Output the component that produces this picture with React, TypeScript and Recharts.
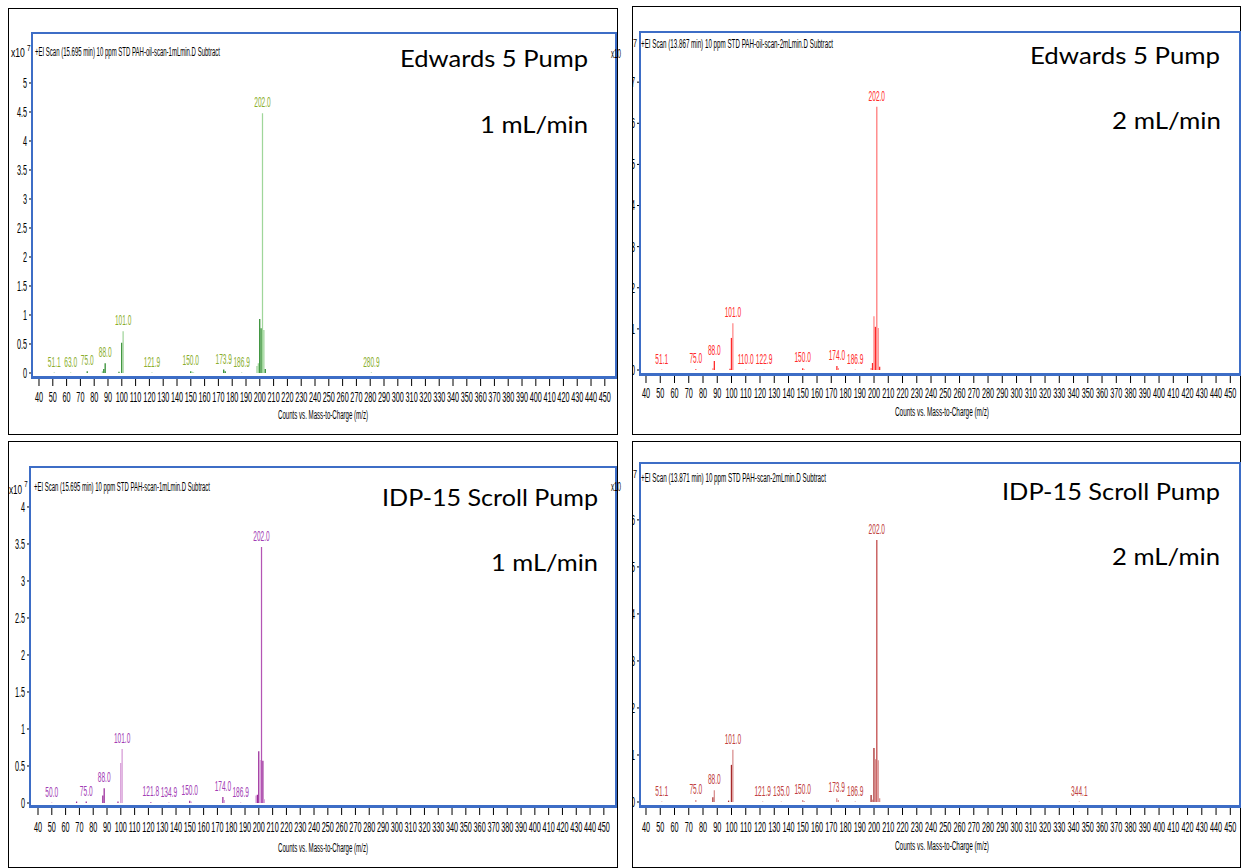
import { BarChart, Bar, XAxis, YAxis, Cell, LabelList } from "recharts";

// m/z tick labels shared by the four spectra
const X_TICKS = [
  40, 50, 60, 70, 80, 90, 100, 110, 120, 130, 140, 150, 160, 170, 180, 190, 200, 210, 220, 230, 240,
  250, 260, 270, 280, 290, 300, 310, 320, 330, 340, 350, 360, 370, 380, 390, 400, 410, 420, 430, 440, 450,
];
const Y_TICKS_5 = [0, 0.5, 1, 1.5, 2, 2.5, 3, 3.5, 4, 4.5, 5];
const Y_TICKS_4 = [0, 0.5, 1, 1.5, 2, 2.5, 3, 3.5, 4];
const Y_TICKS_7 = [0, 1, 2, 3, 4, 5, 6, 7];
const Y_TICKS_6 = [0, 1, 2, 3, 4, 5, 6];

// tone: 0 light, 1 dark, 2 base peak colour. counts in x10^7
const edw1Mz = [51.1, 63.0, 75, 86, 87, 88, 98, 100, 101, 121.9, 150, 151, 152, 173.9, 175, 186.9, 198, 199, 200, 201, 202, 203, 204, 280.9];
const edw1Counts = [0.005, 0.005, 0.03, 0.03, 0.07, 0.17, 0.02, 0.52, 0.72, 0.005, 0.03, 0.02, 0.01, 0.06, 0.03, 0.005, 0.12, 0.17, 0.93, 0.77, 4.48, 0.74, 0.07, 0.005];
const edw1Tone = [1, 1, 1, 0, 1, 1, 1, 1, 0, 1, 1, 0, 0, 1, 1, 1, 0, 0, 1, 1, 2, 0, 1, 1];
const edw1Label = ["51.1", "63.0", "75.0", "", "", "88.0", "", "", "101.0", "121.9", "150.0", "", "", "173.9", "", "186.9", "", "", "", "", "202.0", "", "", "280.9"];

const edw2Mz = [51.1, 75, 87, 88, 99, 100, 101, 110, 122.9, 150, 151, 174, 175, 186.9, 198, 199, 200, 201, 202, 203, 204];
const edw2Counts = [0.005, 0.02, 0.04, 0.22, 0.03, 0.78, 1.14, 0.005, 0.005, 0.04, 0.02, 0.1, 0.05, 0.005, 0.05, 0.17, 1.31, 1.05, 6.4, 1.02, 0.08];
const edw2Tone = [1, 1, 0, 1, 1, 1, 0, 1, 1, 1, 0, 1, 0, 1, 0, 1, 0, 1, 2, 0, 1];
const edw2Label = ["51.1", "75.0", "", "88.0", "", "", "101.0", "110.0", "122.9", "150.0", "", "174.0", "", "186.9", "", "", "", "", "202.0", "", ""];

const idp1Mz = [50.0, 68, 75, 87, 88, 98, 100, 101, 121.8, 134.9, 150, 151, 174, 175, 186.9, 198, 199, 200, 201, 202, 203, 204];
const idp1Counts = [0.005, 0.02, 0.02, 0.1, 0.2, 0.02, 0.54, 0.73, 0.01, 0.005, 0.03, 0.02, 0.08, 0.04, 0.005, 0.1, 0.11, 0.7, 0.58, 3.46, 0.57, 0.05];
const idp1Tone = [1, 1, 1, 1, 1, 1, 0, 0, 1, 1, 1, 0, 1, 0, 1, 0, 1, 1, 0, 2, 1, 0];
const idp1Label = ["50.0", "", "75.0", "", "88.0", "", "", "101.0", "121.8", "134.9", "150.0", "", "174.0", "", "186.9", "", "", "", "", "202.0", "", ""];

const idp2Mz = [51.1, 75, 87, 88, 98, 100, 101, 121.9, 135.0, 150, 151, 173.9, 175, 186.9, 198, 199, 200, 201, 202, 203, 204, 344.1];
const idp2Counts = [0.005, 0.04, 0.1, 0.25, 0.03, 0.79, 1.11, 0.005, 0.005, 0.04, 0.02, 0.08, 0.04, 0.005, 0.15, 0.05, 1.15, 0.91, 5.57, 0.89, 0.08, 0.005];
const idp2Tone = [1, 0, 1, 0, 1, 1, 0, 1, 1, 0, 0, 0, 0, 1, 1, 0, 1, 0, 2, 0, 0, 1];
const idp2Label = ["51.1", "75.0", "", "88.0", "", "", "101.0", "121.9", "135.0", "150.0", "", "173.9", "", "186.9", "", "", "", "", "202.0", "", "", "344.1"];

const SMALL_FONT = "'Liberation Sans', Arial, sans-serif";
const TITLE_FONT = "Lato, 'Open Sans', sans-serif";
const BLUE = "#3d6dc6";

type Panel = {
  key: string;
  left: number;
  top: number;
  w: number;
  h: number;
  mt: number;
  mr: number;
  yw: number;
  xh: number;
  tickGap: number;
  xDomain: [number, number];
  yDomain: [number, number];
  yTicks: number[];
  mz: number[];
  counts: number[];
  tone: number[];
  label: string[];
  colors: string[];
  labelColor: string;
};

const panels: Panel[] = [
  {
    key: "edw1", left: 8, top: 8, w: 610, h: 427, mt: 25, mr: 2, yw: 24, xh: 58, tickGap: 6,
    xDomain: [34.93, 458.1], yDomain: [-0.069, 5.862], yTicks: Y_TICKS_5,
    mz: edw1Mz, counts: edw1Counts, tone: edw1Tone, label: edw1Label,
    colors: ["#9fd49a", "#2b8a2b", "#9fd69a"], labelColor: "#8aae2c",
  },
  {
    key: "edw2", left: 632, top: 6, w: 609, h: 429, mt: 26, mr: 1, yw: 8, xh: 61, tickGap: 5,
    xDomain: [35.79, 456.8], yDomain: [-0.097, 8.22], yTicks: Y_TICKS_7,
    mz: edw2Mz, counts: edw2Counts, tone: edw2Tone, label: edw2Label,
    colors: ["#ff8a8a", "#ff2a2a", "#ff7a7a"], labelColor: "#ff2a2a",
  },
  {
    key: "idp1", left: 8, top: 441, w: 610, h: 427, mt: 26, mr: 2, yw: 22, xh: 62, tickGap: 7,
    xDomain: [34.2, 458.8], yDomain: [-0.0405, 4.54], yTicks: Y_TICKS_4,
    mz: idp1Mz, counts: idp1Counts, tone: idp1Tone, label: idp1Label,
    colors: ["#d69ad6", "#9a2a9a", "#b455b4"], labelColor: "#a23cb4",
  },
  {
    key: "idp2", left: 632, top: 441, w: 609, h: 427, mt: 22, mr: 1, yw: 8, xh: 62, tickGap: 7,
    xDomain: [35.79, 456.8], yDomain: [-0.085, 7.21], yTicks: Y_TICKS_6,
    mz: idp2Mz, counts: idp2Counts, tone: idp2Tone, label: idp2Label,
    colors: ["#d98f8f", "#a52a2a", "#c24a4a"], labelColor: "#c04040",
  },
];

const XTick = (props: any) => {
  const { x, y, payload } = props;
  return (
    <text transform={`translate(${x},${y}) scale(0.52,1)`} textAnchor="middle" dy="0.71em" fontSize={14} fontFamily={SMALL_FONT} fill="#000">
      {payload.value}
    </text>
  );
};

const YTick = (props: any) => {
  const { x, y, payload } = props;
  return (
    <text transform={`translate(${x},${y}) scale(0.52,1)`} textAnchor="end" dy="0.35em" fontSize={14} fontFamily={SMALL_FONT} fill="#000">
      {payload.value}
    </text>
  );
};

const makePeakLabel = (color: string) => (props: any) => {
  const { x, y, width, value } = props;
  if (!value) return null;
  const cx = Number(x) + Number(width) / 2;
  return (
    <text transform={`translate(${cx},${Number(y) - 6}) scale(0.47,1)`} textAnchor="middle" fontSize={14} fontFamily={SMALL_FONT} fill={color}>
      {value}
    </text>
  );
};

function Spectrum({ p }: { p: Panel }) {
  const data = p.mz.map((m, i) => ({ mz: m, v: p.counts[i], tone: p.tone[i], label: p.label[i] }));
  const plotL = p.left + p.yw;
  const plotT = p.top + p.mt;
  const plotR = p.left + p.w - p.mr;
  const plotB = p.top + p.h - p.xh;
  return (
    <>
      <div style={{ position: "absolute", left: p.left, top: p.top, width: p.w, height: p.h, border: "1px solid #000", boxSizing: "border-box" }} />
      <div style={{ position: "absolute", left: p.left, top: p.top }}>
        <BarChart width={p.w} height={p.h} data={data} margin={{ top: p.mt, right: p.mr, bottom: 0, left: 0 }}>
          <XAxis
            type="number"
            dataKey="mz"
            domain={p.xDomain}
            ticks={X_TICKS}
            interval={0}
            allowDataOverflow
            height={p.xh}
            axisLine={false}
            tickLine={{ stroke: "#000" }}
            tickSize={9}
            tickMargin={p.tickGap}
            tick={XTick}
          />
          <YAxis
            type="number"
            domain={p.yDomain}
            ticks={p.yTicks}
            interval={0}
            allowDataOverflow
            width={p.yw}
            axisLine={{ stroke: "#000" }}
            tickLine={{ stroke: "#000" }}
            tickSize={3}
            tickMargin={2}
            tick={YTick}
          />
          <Bar dataKey="v" barSize={2} isAnimationActive={false}>
            {data.map((d, i) => (
              <Cell key={i} fill={p.colors[d.tone]} />
            ))}
            <LabelList dataKey="label" content={makePeakLabel(p.labelColor)} />
          </Bar>
        </BarChart>
      </div>
      <div
        style={{
          position: "absolute",
          left: plotL - 1,
          top: plotT - 1,
          width: plotR - plotL + 2,
          height: plotB - plotT + 3,
          borderStyle: "solid",
          borderColor: BLUE,
          borderWidth: "2px 2px 3px 2px",
          boxSizing: "border-box",
        }}
      />
    </>
  );
}

const small = { fontFamily: SMALL_FONT, fill: "#000" } as const;
const title = { fontFamily: TITLE_FONT, fill: "#000", fontSize: 24 } as const;

export default function App() {
  return (
    <div style={{ position: "absolute", left: 0, top: 0, width: 1241, height: 868, background: "#fff", overflow: "hidden" }}>
      {panels.map((p) => (
        <Spectrum key={p.key} p={p} />
      ))}
      <svg width={1241} height={868} style={{ position: "absolute", left: 0, top: 0 }}>
        {/* scan headers */}
        <text x={35} y={56} fontSize={12} textLength={185} lengthAdjust="spacingAndGlyphs" {...small}>+EI Scan (15.695 min) 10 ppm STD PAH-oil-scan-1mLmin.D  Subtract</text>
        <text x={641} y={48} fontSize={12} textLength={192} lengthAdjust="spacingAndGlyphs" {...small}>+EI Scan (13.867 min) 10 ppm STD PAH-oil-scan-2mLmin.D  Subtract</text>
        <text x={34} y={491} fontSize={12} textLength={176} lengthAdjust="spacingAndGlyphs" {...small}>+EI Scan (15.695 min) 10 ppm STD PAH-scan-1mLmin.D  Subtract</text>
        <text x={641} y={482} fontSize={12} textLength={185} lengthAdjust="spacingAndGlyphs" {...small}>+EI Scan (13.871 min) 10 ppm STD PAH-scan-2mLmin.D  Subtract</text>

        {/* exponents */}
        <text transform="translate(11,57) scale(0.72,1)" fontSize={12} {...small}>
          x10<tspan dx={3} dy={-6} fontSize={9}>7</tspan>
        </text>
        <text x={611} y={58} fontSize={12} textLength={10} lengthAdjust="spacingAndGlyphs" {...small}>x10</text>
        <text x={633} y={47} fontSize={10} textLength={4} lengthAdjust="spacingAndGlyphs" {...small}>7</text>
        <text transform="translate(9,494) scale(0.68,1)" fontSize={12} {...small}>
          x10<tspan dx={3} dy={-7} fontSize={9}>7</tspan>
        </text>
        <text x={611} y={491} fontSize={12} textLength={10} lengthAdjust="spacingAndGlyphs" {...small}>x10</text>
        <text x={633} y={478} fontSize={10} textLength={4} lengthAdjust="spacingAndGlyphs" {...small}>7</text>

        {/* axis titles */}
        <text x={323} y={419} fontSize={12} textAnchor="middle" textLength={90} lengthAdjust="spacingAndGlyphs" {...small}>Counts vs. Mass-to-Charge (m/z)</text>
        <text x={942} y={416} fontSize={12} textAnchor="middle" textLength={94} lengthAdjust="spacingAndGlyphs" {...small}>Counts vs. Mass-to-Charge (m/z)</text>
        <text x={323} y={852} fontSize={12} textAnchor="middle" textLength={90} lengthAdjust="spacingAndGlyphs" {...small}>Counts vs. Mass-to-Charge (m/z)</text>
        <text x={942} y={850} fontSize={12} textAnchor="middle" textLength={94} lengthAdjust="spacingAndGlyphs" {...small}>Counts vs. Mass-to-Charge (m/z)</text>

        {/* slide annotations */}
        <text x={400} y={67} textLength={188} lengthAdjust="spacingAndGlyphs" {...title}>Edwards 5 Pump</text>
        <text x={480} y={133} textLength={108} lengthAdjust="spacingAndGlyphs" {...title}>1 mL/min</text>
        <text x={1030} y={64} textLength={190} lengthAdjust="spacingAndGlyphs" {...title}>Edwards 5 Pump</text>
        <text x={1112} y={129} textLength={109} lengthAdjust="spacingAndGlyphs" {...title}>2 mL/min</text>
        <text x={382} y={506} textLength={216} lengthAdjust="spacingAndGlyphs" {...title}>IDP-15 Scroll Pump</text>
        <text x={491} y={571} textLength={107} lengthAdjust="spacingAndGlyphs" {...title}>1 mL/min</text>
        <text x={1002} y={500} textLength={218} lengthAdjust="spacingAndGlyphs" {...title}>IDP-15 Scroll Pump</text>
        <text x={1112} y={565} textLength={108} lengthAdjust="spacingAndGlyphs" {...title}>2 mL/min</text>
      </svg>
    </div>
  );
}
